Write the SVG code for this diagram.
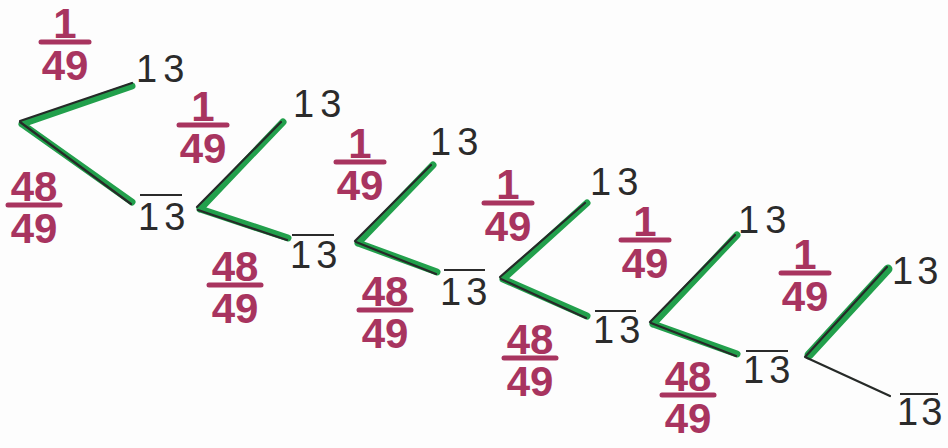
<svg xmlns="http://www.w3.org/2000/svg" width="948" height="448" viewBox="0 0 948 448">
<style>
.g{stroke:#22a04c;stroke-width:7;stroke-linecap:round;fill:none}
.k{stroke:#262a28;stroke-width:2.2;stroke-linecap:round;fill:none}
.lab{font-family:"Liberation Sans",Arial,sans-serif;font-size:38px;fill:#2b2b2b}
.ol{stroke:#2b2b2b;stroke-width:2.2}
.fr{font-family:"Liberation Sans",Arial,sans-serif;font-weight:bold;font-size:42px;fill:#a8345f;text-anchor:middle}
.bar{stroke:#a8345f;stroke-width:5;stroke-linecap:round}
</style>
<defs>
<g id="f1"><text class="fr" x="0" y="-4">1</text><line class="bar" x1="-24" y1="0" x2="24" y2="0"/><text class="fr" x="0" y="38">49</text></g>
<g id="f48"><text class="fr" x="0" y="-4">48</text><line class="bar" x1="-26" y1="0" x2="26" y2="0"/><text class="fr" x="0" y="38">49</text></g>
</defs>
<rect width="948" height="448" fill="#fdfdfd"/>
<g id="connectors">
<path class="g" d="M22,124 L132,86 M22,124 L132,202"/>
<path class="k" d="M20,121 L132,83 M20,122 L131,204"/>
<path class="g" d="M200,209 L283,122 M200,209 L288,238"/>
<path class="k" d="M197,207 L281,122 M198,210 L287,240"/>
<path class="g" d="M358,243 L433,165 M358,243 L437,272"/>
<path class="k" d="M355,241 L431,165 M356,242 L436,274"/>
<path class="g" d="M503,279 L587,203 M503,279 L587,316"/>
<path class="k" d="M500,277 L585,203 M501,279 L586,318"/>
<path class="g" d="M653,324 L737,235 M653,324 L737,354"/>
<path class="k" d="M650,322 L735,235 M651,323 L736,356"/>
<path class="g" style="stroke-width:9" d="M809,355 L888,269"/>
<path class="k" d="M805,357 L887,267 M805,357 L890,396"/>
</g>
<g id="n1">
<use href="#f1" x="65" y="42"/>
<use href="#f48" x="34" y="205"/>
<text class="lab" x="136" y="82">1<tspan dx="6">3</tspan></text>
<text class="lab" x="138" y="230">1<tspan dx="5">3</tspan></text><line class="ol" x1="140" y1="195" x2="182" y2="195"/>
</g>
<g id="n2">
<use href="#f1" x="203" y="125"/>
<use href="#f48" x="235" y="285"/>
<text class="lab" x="293" y="117">1<tspan dx="6">3</tspan></text>
<text class="lab" x="290" y="268">1<tspan dx="5">3</tspan></text><line class="ol" x1="292" y1="235" x2="334" y2="235"/>
</g>
<g id="n3">
<use href="#f1" x="360" y="162"/>
<use href="#f48" x="385" y="310"/>
<text class="lab" x="430" y="155">1<tspan dx="6">3</tspan></text>
<text class="lab" x="440" y="305">1<tspan dx="5">3</tspan></text><line class="ol" x1="444" y1="270" x2="485" y2="270"/>
</g>
<g id="n4">
<use href="#f1" x="508" y="203"/>
<use href="#f48" x="530" y="358"/>
<text class="lab" x="590" y="195">1<tspan dx="6">3</tspan></text>
<text class="lab" x="593" y="343">1<tspan dx="5">3</tspan></text><line class="ol" x1="595" y1="311" x2="636" y2="311"/>
</g>
<g id="n5">
<use href="#f1" x="645" y="240"/>
<use href="#f48" x="688" y="395"/>
<text class="lab" x="738" y="233">1<tspan dx="6">3</tspan></text>
<text class="lab" x="743" y="383">1<tspan dx="5">3</tspan></text><line class="ol" x1="746" y1="351" x2="788" y2="351"/>
</g>
<g id="n6">
<use href="#f1" x="805" y="273"/>
<text class="lab" x="892" y="284">1<tspan dx="4">3</tspan></text>
<text class="lab" x="897" y="425">1<tspan dx="3">3</tspan></text><line class="ol" x1="900" y1="394" x2="938" y2="394"/>
</g>
</svg>
